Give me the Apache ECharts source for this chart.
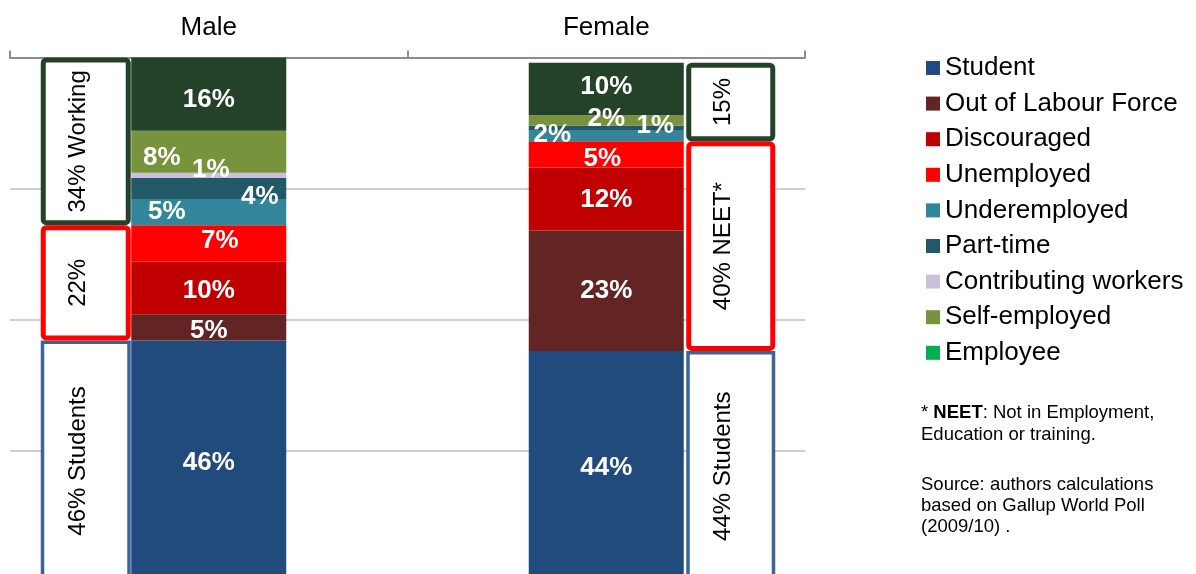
<!DOCTYPE html>
<html>
<head>
<meta charset="utf-8">
<title>Youth activity status by sex</title>
<script src="https://cdn.jsdelivr.net/npm/echarts@6/dist/echarts.min.js"></script>
<style>
  html, body { margin: 0; padding: 0; background: #ffffff; }
  #chart { width: 1196px; height: 574px; }
</style>
</head>
<body>
<div id="chart"></div>
<script>
// Activity status shares (%), one value per sex
const categories = ['Male', 'Female'];

const student          = [46, 44];
const outOfLabourForce = [5, 23];
const discouraged      = [10, 12];
const unemployed       = [7, 5];
const underemployed    = [5, 2];
const partTime         = [4, 1];
const contributing     = [1, 0];
const selfEmployed     = [8, 2];
const employee         = [16, 10];

// Grouped totals shown in the framed side boxes (bottom to top)
const groupMale         = [46, 22, 34];
const groupFemale       = [44, 40, 15];
const groupLabelsMale   = ['46% Students', '22%', '34% Working'];
const groupLabelsFemale = ['44% Students', '40% NEET*', '15%'];

const yTicks = [0, 25, 50, 75, 100];

// ---------------------------------------------------------------
const FONT = '"Liberation Sans", Arial, Helvetica, sans-serif';
const BAR_WIDTH = 155;

const segments = [
  { name: 'Student',              data: student,          color: '#214a7d' },
  { name: 'Out of Labour Force',  data: outOfLabourForce, color: '#632524' },
  { name: 'Discouraged',          data: discouraged,      color: '#c00000' },
  { name: 'Unemployed',           data: unemployed,       color: '#ff0000' },
  { name: 'Underemployed',        data: underemployed,    color: '#31869c' },
  { name: 'Part-time',            data: partTime,         color: '#215967' },
  { name: 'Contributing workers', data: contributing,     color: '#ccc1da' },
  { name: 'Self-employed',        data: selfEmployed,     color: '#77933c' },
  { name: 'Employee',             data: employee,         color: '#244229' }
];

// label nudges [dx, dy] per segment, per sex, so thin slices don't collide
const labelNudge = {
  'Student':              [[0, 2], [0, 2]],
  'Out of Labour Force':  [[0, 3], [0, 0]],
  'Discouraged':          [[0, 3], [0, 1]],
  'Unemployed':           [[11, -3], [-4, 4]],
  'Underemployed':        [[-42, 0], [-54, -1]],
  'Part-time':            [[51, 8], [49, -2]],
  'Contributing workers': [[2, -6], [0, 0]],
  'Self-employed':        [[-47, 6], [0, -2]],
  'Employee':             [[0, 6], [0, -2]]
};

const barSeries = segments.map(function (seg) {
  return {
    name: seg.name,
    type: 'bar',
    stack: 'share',
    barWidth: BAR_WIDTH,
    clip: true,
    itemStyle: { color: seg.color },
    label: {
      show: true,
      position: 'inside',
      color: '#ffffff',
      fontFamily: FONT,
      fontWeight: 'bold',
      fontSize: 26,
      formatter: function (p) { return p.value > 0 ? p.value + '%' : ''; }
    },
    data: seg.data.map(function (v, i) {
      return { value: v, label: { offset: labelNudge[seg.name][i] } };
    })
  };
});

// Framed group boxes: [category index, start, end, group index]
const boxStyles = [
  { stroke: '#3e6496', lineWidth: 3.5, r: 0 },   // students
  { stroke: '#ff0000', lineWidth: 5,   r: 3 },   // NEET
  { stroke: '#244229', lineWidth: 5,   r: 3 }    // working
];
const boxData = [];
[groupMale, groupFemale].forEach(function (groups, ci) {
  let acc = 0;
  groups.forEach(function (v, gi) {
    boxData.push([ci, acc, acc + v, gi]);
    acc += v;
  });
});
const boxLabels = [groupLabelsMale, groupLabelsFemale];

function renderBox(params, api) {
  const ci = api.value(0);
  const gi = api.value(3);
  const center = api.coord([ci, 0])[0];
  let yTop = api.coord([ci, api.value(2)])[1];
  const yBot = api.coord([ci, api.value(1)])[1];
  const cs = params.coordSys;
  yTop = Math.max(yTop, cs.y);
  // male boxes sit left of the bar, female boxes right of it
  const x0 = ci === 0 ? center - 168 : center + 80;
  const x1 = ci === 0 ? center - 78  : center + 169;
  const st = boxStyles[gi];
  const lw = st.lineWidth;
  return {
    type: 'group',
    children: [
      {
        type: 'rect',
        shape: { x: x0 + lw / 2, y: yTop + lw / 2, width: x1 - x0 - lw, height: yBot - yTop - lw, r: st.r },
        style: { fill: '#ffffff', stroke: st.stroke, lineWidth: lw }
      },
      {
        type: 'text',
        x: (x0 + x1) / 2 - 7,
        y: (yTop + yBot) / 2,
        rotation: Math.PI / 2,
        style: {
          text: boxLabels[ci][gi],
          align: 'center',
          verticalAlign: 'middle',
          fontFamily: FONT,
          fontSize: 24,
          fill: '#000000'
        }
      }
    ]
  };
}

const legendColors = {
  'Employee': '#00b050'
};

const option = {
  animation: false,
  backgroundColor: '#ffffff',
  textStyle: { fontFamily: FONT },
  // plot area runs past the bottom edge of the canvas
  grid: { left: 10, top: 57.5, width: 795, height: 524, containLabel: false, outerBoundsMode: 'none' },
  legend: {
    orient: 'vertical',
    left: 926,
    top: 55,
    padding: 0,
    selectedMode: false,
    icon: 'rect',
    itemWidth: 14,
    itemHeight: 14,
    itemGap: 9.6,
    textStyle: { fontFamily: FONT, fontSize: 26, color: '#000000', lineHeight: 26 },
    data: segments.map(function (s) {
      return legendColors[s.name]
        ? { name: s.name, itemStyle: { color: legendColors[s.name] } }
        : { name: s.name };
    })
  },
  xAxis: {
    type: 'category',
    position: 'top',
    data: categories,
    axisLine: { show: true, onZero: false, lineStyle: { color: '#8c8c8c', width: 2 } },
    axisTick: { show: true, length: 7, lineStyle: { color: '#8c8c8c', width: 2 } },
    axisLabel: { fontFamily: FONT, fontSize: 26, color: '#000000', margin: 17 }
  },
  yAxis: {
    type: 'value',
    min: yTicks[0],
    max: yTicks[yTicks.length - 1],
    interval: yTicks[1] - yTicks[0],
    axisLine: { show: false },
    axisTick: { show: false },
    axisLabel: { show: false },
    splitLine: { show: true, lineStyle: { color: '#bfbfbf', width: 1.5 } }
  },
  graphic: [
    {
      type: 'text',
      left: 921,
      top: 402,
      style: {
        text: '* {b|NEET}: Not in Employment,\nEducation or training.',
        fontFamily: FONT,
        fontSize: 18.5,
        lineHeight: 22,
        fill: '#000000',
        rich: { b: { fontFamily: FONT, fontSize: 18.5, fontWeight: 'bold', lineHeight: 22, fill: '#000000' } }
      }
    },
    {
      type: 'text',
      left: 921,
      top: 474.5,
      style: {
        text: 'Source: authors calculations\nbased on Gallup World Poll\n(2009/10) .',
        fontFamily: FONT,
        fontSize: 18.5,
        lineHeight: 21,
        fill: '#000000'
      }
    }
  ],
  series: barSeries.concat([
    {
      type: 'custom',
      name: 'groups',
      renderItem: renderBox,
      encode: { x: 0, y: [1, 2] },
      data: boxData,
      z: 3,
      silent: true
    }
  ])
};

const chart = echarts.init(document.getElementById('chart'), null, { renderer: 'canvas' });
chart.setOption(option);
</script>
</body>
</html>
